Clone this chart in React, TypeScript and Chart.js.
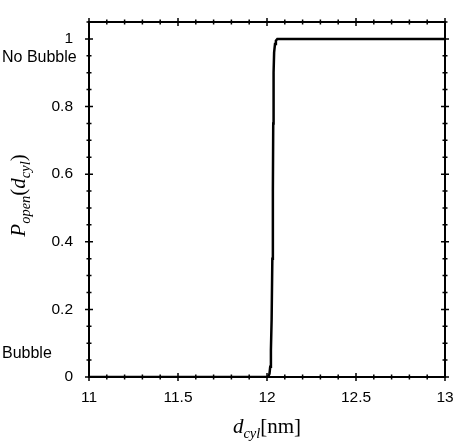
import React, { useEffect, useRef } from "react";
import { Chart, registerables } from "chart.js";

Chart.register(...registerables);

// Data
const dCyl = [11, 11.5, 12.0, 12.008, 12.014, 12.018, 12.022, 12.026, 12.03, 12.033, 12.035, 12.037, 12.04, 12.045, 12.05, 12.058, 12.5, 13];
const pOpen = [0, 0, 0, 0.002, 0.01, 0.03, 0.08, 0.17, 0.35, 0.55, 0.75, 0.9, 0.96, 0.985, 0.995, 1, 1, 1];

const xTicks = [11, 11.5, 12, 12.5, 13];
const yTicks = [0, 0.2, 0.4, 0.6, 0.8, 1];
const xMinorStep = 0.1;
const yMinorStep = 0.05;
const stateLabels = ["No Bubble", "Bubble"];
const stateValues = [0.945, 0.068];

const TICK_FONT = "'Liberation Sans', Arial, Helvetica, sans-serif";
const SERIF = "'Liberation Serif', 'Times New Roman', serif";

type Seg = { t: string; italic?: boolean; sub?: boolean };

function drawRich(ctx: CanvasRenderingContext2D, segs: Seg[], cx: number, baseY: number) {
  const main = 21;
  const sub = 14.5;
  const fontOf = (s: Seg) => `${s.italic ? "italic " : ""}${s.sub ? sub : main}px ${SERIF}`;
  let total = 0;
  const widths = segs.map((s) => {
    ctx.font = fontOf(s);
    const w = ctx.measureText(s.t).width;
    total += w;
    return w;
  });
  let x = cx - total / 2;
  ctx.textAlign = "left";
  ctx.textBaseline = "alphabetic";
  ctx.fillStyle = "#000";
  segs.forEach((s, i) => {
    ctx.font = fontOf(s);
    ctx.fillText(s.t, x, baseY + (s.sub ? 5 : 0));
    x += widths[i];
  });
}

const framePlugin = {
  id: "frameTicks",
  afterDraw(chart: any) {
    const ctx: CanvasRenderingContext2D = chart.ctx;
    const xs = chart.scales.x;
    const ys = chart.scales.y;
    const { left, right, top, bottom } = chart.chartArea;
    ctx.save();
    ctx.strokeStyle = "#000";
    ctx.lineWidth = 2;
    ctx.strokeRect(left, top, right - left, bottom - top);
    ctx.lineWidth = 1.5;
    const isMajor = (v: number, arr: number[]) => arr.some((a) => Math.abs(a - v) < 1e-6);
    // x ticks
    for (let i = 0; ; i++) {
      const v = xs.min + i * xMinorStep;
      if (v > xs.max + 1e-9) break;
      const px = xs.getPixelForValue(v);
      const len = isMajor(v, xTicks) ? 4 : 2.5;
      ctx.beginPath();
      ctx.moveTo(px, bottom - len);
      ctx.lineTo(px, bottom + len);
      ctx.moveTo(px, top - len);
      ctx.lineTo(px, top + len);
      ctx.stroke();
    }
    // y ticks
    for (let i = 0; ; i++) {
      const v = ys.min + i * yMinorStep;
      if (v > ys.max + 1e-9) break;
      const py = ys.getPixelForValue(v);
      const len = isMajor(v, yTicks) ? 4 : 2.5;
      ctx.beginPath();
      ctx.moveTo(left - len, py);
      ctx.lineTo(left + len, py);
      ctx.moveTo(right - len, py);
      ctx.lineTo(right + len, py);
      ctx.stroke();
    }
    // state labels
    ctx.font = `16px ${TICK_FONT}`;
    ctx.fillStyle = "#000";
    ctx.textAlign = "left";
    ctx.textBaseline = "middle";
    stateLabels.forEach((lab, i) => {
      ctx.fillText(lab, 2, ys.getPixelForValue(stateValues[i]));
    });
    // x title
    drawRich(
      ctx,
      [{ t: "d", italic: true }, { t: "cyl", italic: true, sub: true }, { t: "[nm]" }],
      (left + right) / 2,
      433
    );
    // y title
    ctx.save();
    ctx.translate(25, (top + bottom) / 2 - 4);
    ctx.rotate(-Math.PI / 2);
    drawRich(
      ctx,
      [
        { t: "P", italic: true },
        { t: "open", italic: true, sub: true },
        { t: "(" },
        { t: "d", italic: true },
        { t: "cyl", italic: true, sub: true },
        { t: ")" },
      ],
      0,
      0
    );
    ctx.restore();
    ctx.restore();
  },
};

export default function App() {
  const ref = useRef<HTMLCanvasElement>(null);
  useEffect(() => {
    if (!ref.current) return;
    const chart = new Chart(ref.current, {
      type: "line",
      data: {
        datasets: [
          {
            data: dCyl.map((x, i) => ({ x, y: pOpen[i] })),
            borderColor: "#000",
            borderWidth: 2.5,
            pointRadius: 0,
            tension: 0,
            fill: false,
          },
        ],
      },
      options: {
        animation: false,
        responsive: false,
        events: [],
        layout: { padding: { top: 22, right: 9, left: 0, bottom: 0 } },
        plugins: { legend: { display: false }, tooltip: { enabled: false }, title: { display: false } },
        scales: {
          x: {
            type: "linear",
            min: 11,
            max: 13,
            afterBuildTicks: (s: any) => {
              s.ticks = xTicks.map((v) => ({ value: v }));
            },
            afterFit: (s: any) => {
              s.height = 71;
              s.paddingLeft = 0;
              s.paddingRight = 0;
            },
            ticks: {
              color: "#000",
              font: { family: TICK_FONT, size: 15.5 },
              padding: 11,
              maxRotation: 0,
              autoSkip: false,
              callback: (v: any) => String(v),
            },
            grid: { display: false, drawTicks: false },
            border: { display: false },
          },
          y: {
            type: "linear",
            min: 0,
            max: 1.05,
            afterBuildTicks: (s: any) => {
              s.ticks = yTicks.map((v) => ({ value: v }));
            },
            afterFit: (s: any) => {
              s.width = 89;
              s.paddingTop = 0;
              s.paddingBottom = 0;
            },
            ticks: {
              color: "#000",
              font: { family: TICK_FONT, size: 15.5 },
              padding: 16,
              autoSkip: false,
              callback: (v: any) => String(Math.round(v * 10) / 10),
            },
            grid: { display: false, drawTicks: false },
            border: { display: false },
          },
        },
      },
      plugins: [framePlugin],
    });
    return () => chart.destroy();
  }, []);
  return (
    <div style={{ position: "absolute", left: 0, top: 0, width: 454, height: 448, background: "#fff" }}>
      <canvas ref={ref} width={454} height={448} style={{ display: "block" }} />
    </div>
  );
}
